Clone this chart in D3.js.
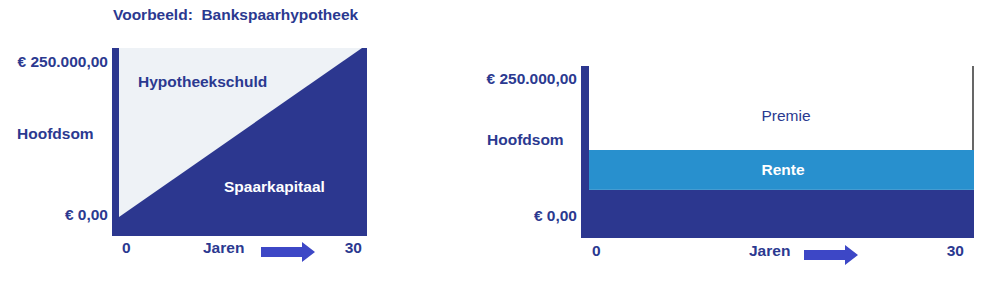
<!DOCTYPE html>
<html lang="nl">
<head>
<meta charset="utf-8">
<script src="https://cdn.jsdelivr.net/npm/d3@7"></script>
<style>
  body { margin: 0; background: #fff; }
  svg text { font-family: "Liberation Sans", Arial, sans-serif; }
</style>
</head>
<body>
<svg id="svg"></svg>
<script>
// data
const years = [0, 30];
const hoofdsom = 250000;
const spaarkapitaal = [0, 250000];           // grows linearly over the term
const yTicks = [0, 250000];
const tickLabels = ["€ 0,00", "€ 250.000,00"];
const xTickLabels = ["0", "30"];
// right chart: stacked bands from the bottom up
const bandNames = ["", "Rente", "Premie"];
const bandFrom = [0, 70000, 128000];
const bandTo = [70000, 128000, 250000];

const width = 999, height = 293;
const navy = "#2c378f", textCol = "#2b3990", light = "#eef2f6", rente = "#2890ce", arrowCol = "#3d47c6";
const fs = 15.5;

const svg = d3.select("#svg").attr("width", width).attr("height", height);

svg.append("text")
  .attr("x", 113).attr("y", 20)
  .attr("fill", textCol).attr("font-size", fs).attr("font-weight", "bold")
  .attr("xml:space", "preserve")
  .text("Voorbeeld:  Bankspaarhypotheek");

function arrow(g, x0, yc) {
  // block arrow pointing right
  const pts = [[0, -5], [41, -5], [41, -10], [54, 0], [41, 10], [41, 5], [0, 5]];
  g.append("polygon")
    .attr("points", pts.map(p => [x0 + p[0], yc + p[1]].join(",")).join(" "))
    .attr("fill", arrowCol);
}

function labels(g, x, y, o) {
  g.selectAll("text.ytick").data(yTicks).join("text")
    .attr("class", "ytick")
    .attr("x", o.labelRight)
    .attr("y", (d, i) => y(d) + o.tickDy[i])
    .attr("dy", "0.35em")
    .attr("text-anchor", "end")
    .attr("fill", textCol).attr("font-size", fs).attr("font-weight", "bold")
    .text((d, i) => tickLabels[i]);

  g.append("text")
    .attr("x", o.hoofdX).attr("y", o.hoofdY).attr("dy", "0.35em")
    .attr("fill", textCol).attr("font-size", fs).attr("font-weight", "bold")
    .text("Hoofdsom");

  g.selectAll("text.xtick").data(years).join("text")
    .attr("class", "xtick")
    .attr("x", (d, i) => x(d) + o.xDx[i])
    .attr("y", o.xLabelY).attr("dy", "0.35em")
    .attr("text-anchor", (d, i) => i === 0 ? "start" : "end")
    .attr("fill", textCol).attr("font-size", fs).attr("font-weight", "bold")
    .text((d, i) => xTickLabels[i]);

  g.append("text")
    .attr("x", o.jarenX).attr("y", o.xLabelY).attr("dy", "0.35em")
    .attr("fill", textCol).attr("font-size", fs).attr("font-weight", "bold")
    .text("Jaren");

  arrow(g, o.arrowX, o.xLabelY + 4);
}

// ---------- left chart ----------
{
  const g = svg.append("g");
  const x = d3.scaleLinear().domain(d3.extent(years)).range([119, 362]);
  const y = d3.scaleLinear().domain([0, hoofdsom]).range([217, 48]);

  // dark frame = spaarkapitaal
  g.append("rect")
    .attr("x", x(0) - 7).attr("y", y(hoofdsom))
    .attr("width", x(30) - x(0) + 12).attr("height", y(0) - y(hoofdsom) + 19)
    .attr("fill", navy);

  const pts = years.map((d, i) => ({ year: d, s: spaarkapitaal[i] }));
  const area = d3.area()
    .x(d => x(d.year))
    .y0(d => y(d.s))
    .y1(() => y(hoofdsom));
  g.append("path").datum(pts).attr("d", area).attr("fill", light);

  g.append("text")
    .attr("x", 138).attr("y", 82).attr("dy", "0.35em")
    .attr("fill", textCol).attr("font-size", fs).attr("font-weight", "bold")
    .text("Hypotheekschuld");
  g.append("text")
    .attr("x", 224).attr("y", 187).attr("dy", "0.35em")
    .attr("fill", "#fff").attr("font-size", fs).attr("font-weight", "bold")
    .text("Spaarkapitaal");

  labels(g, x, y, {
    labelRight: 108, tickDy: [-2, 14], hoofdX: 17, hoofdY: 134,
    xDx: [3, 0], xLabelY: 248, jarenX: 203, arrowX: 261
  });
}

// ---------- right chart ----------
{
  const g = svg.append("g");
  const x = d3.scaleLinear().domain(d3.extent(years)).range([589, 974]);
  const y = d3.scaleLinear().domain([0, hoofdsom]).range([238, 66]);
  const bandCol = [navy, rente, "#fff"];

  // left dark bar
  g.append("rect")
    .attr("x", x(0) - 8).attr("y", y(hoofdsom))
    .attr("width", 8).attr("height", y(0) - y(hoofdsom))
    .attr("fill", navy);

  bandNames.forEach((name, i) => {
    g.append("rect")
      .attr("x", i === 0 ? x(0) - 8 : x(0))
      .attr("y", y(bandTo[i]))
      .attr("width", x(30) - x(0) + (i === 0 ? 8 : 0))
      .attr("height", y(bandFrom[i]) - y(bandTo[i]))
      .attr("fill", bandCol[i]);
  });

  g.append("line")
    .attr("x1", x(30) - 1).attr("x2", x(30) - 1)
    .attr("y1", y(hoofdsom)).attr("y2", y(bandTo[1]))
    .attr("stroke", "#000").attr("stroke-width", 1.2);

  g.append("text")
    .attr("x", 786).attr("y", (y(bandFrom[2]) + y(bandTo[2])) / 2 + 8).attr("dy", "0.35em")
    .attr("text-anchor", "middle")
    .attr("fill", textCol).attr("font-size", fs)
    .text(bandNames[2]);
  g.append("text")
    .attr("x", 783).attr("y", (y(bandFrom[1]) + y(bandTo[1])) / 2).attr("dy", "0.35em")
    .attr("text-anchor", "middle")
    .attr("fill", "#fff").attr("font-size", fs).attr("font-weight", "bold")
    .text(bandNames[1]);

  labels(g, x, y, {
    labelRight: 577, tickDy: [-22, 13], hoofdX: 487, hoofdY: 140,
    xDx: [3, -10], xLabelY: 251, jarenX: 749, arrowX: 804
  });
}
</script>
</body>
</html>
